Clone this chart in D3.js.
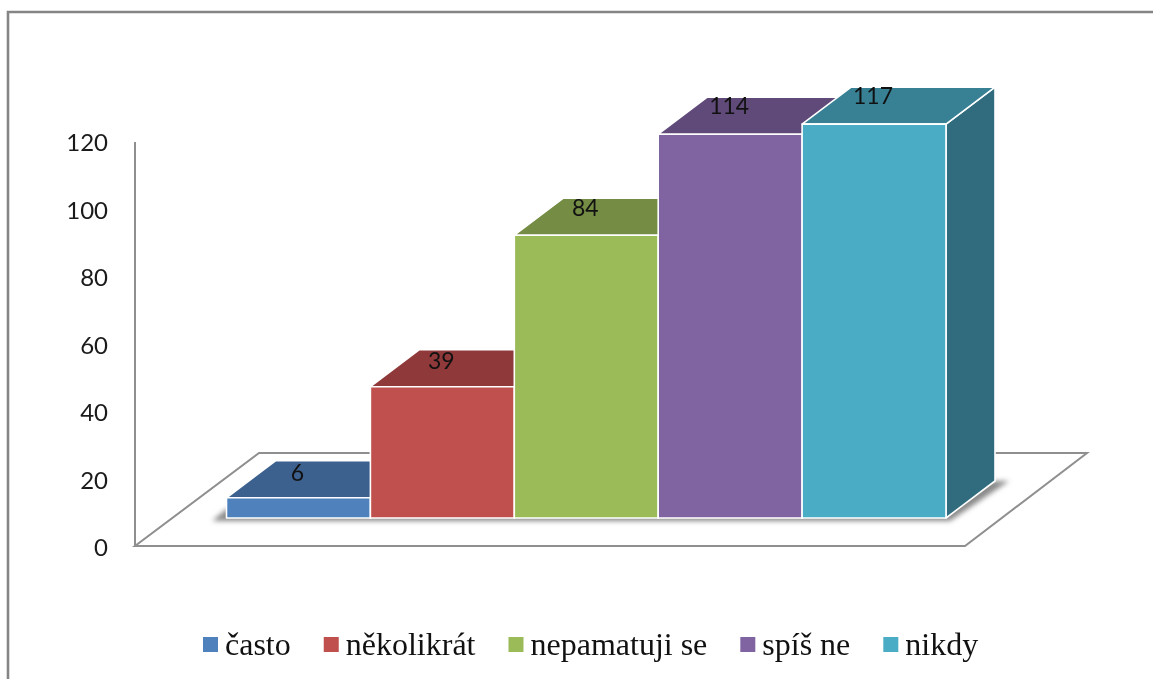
<!DOCTYPE html>
<html><head><meta charset="utf-8">
<script src="https://cdnjs.cloudflare.com/ajax/libs/d3/7.8.5/d3.min.js"></script>
<style>html,body{margin:0;background:#fff}svg{display:block;filter:blur(0.4px)}</style></head>
<body><svg id="c" width="1153" height="679"></svg>
<script>
const categories = ["často","několikrát","nepamatuji se","spíš ne","nikdy"];
const values = [6,39,84,114,117];
const ticks = [0,20,40,60,80,100,120];
const frontColors = ["#4f81bd","#c0504d","#9bbb59","#8064a2","#4bacc6"];
const topColors = ["#3c618e","#90393a","#748c43","#604a7a","#388195"];
const sideColors = ["#345478","#7c3230","#647a3a","#534069","#306c7e"];

const svg = d3.select("#c");
const depth = {dx:49, dy:-37};
const floorDepth = {dx:122, dy:-93};
const y = d3.scaleLinear().domain([0,120]).range([546,142]);
const x = d3.scaleBand().domain(categories).range([226.5,946]).padding(0);
const baseY = 518;
const unit = y(0)-y(1);
const barTop = v => baseY - v*unit;
const poly = pts => pts.map(p=>p.join(",")).join(" ");

const defs = svg.append("defs");
defs.append("filter").attr("id","soft").attr("x","-20%").attr("y","-20%").attr("width","140%").attr("height","140%")
  .append("feGaussianBlur").attr("stdDeviation",2.5);

// chart frame
svg.append("path").attr("d",`M1153,12 H8 V679`).attr("fill","none").attr("stroke","#858585").attr("stroke-width",2.6);

// wall and floor
const fx0 = 135, fx1 = 965;
svg.append("line").attr("x1",fx0).attr("x2",fx0).attr("y1",y(120)).attr("y2",y(0)).attr("stroke","#8f8f8f").attr("stroke-width",2);
svg.append("polygon").attr("points",poly([[fx0,y(0)],[fx1,y(0)],[fx1+floorDepth.dx,y(0)+floorDepth.dy],[fx0+floorDepth.dx+2,y(0)+floorDepth.dy]]))
  .attr("fill","#fff").attr("stroke","#8f8f8f").attr("stroke-width",2);

// bar shadow on the floor
const left = x.range()[0], right = x.range()[1];
svg.append("polygon")
  .attr("points",poly([[left-12,baseY+1],[left,baseY-9],[left+10,baseY-9],[right,baseY-9],[right+depth.dx-6,baseY+depth.dy],[right+depth.dx+14,baseY+depth.dy],[right+4,baseY+3],[left-14,baseY+3]]))
  .attr("fill","#8a8a8a").attr("filter","url(#soft)");

// bars
const g = svg.append("g").attr("stroke","#fff").attr("stroke-width",1.6).attr("stroke-linejoin","round");
categories.forEach((c,i)=>{
  const x0=x(c), x1=x0+x.bandwidth(), t=barTop(values[i]);
  g.append("polygon").attr("points",poly([[x1,baseY],[x1+depth.dx,baseY+depth.dy],[x1+depth.dx,t+depth.dy],[x1,t]])).attr("fill",sideColors[i]);
  g.append("polygon").attr("points",poly([[x0,t],[x0+depth.dx,t+depth.dy],[x1+depth.dx,t+depth.dy],[x1,t]])).attr("fill",topColors[i]);
  g.append("rect").attr("x",x0).attr("y",t).attr("width",x.bandwidth()).attr("height",baseY-t).attr("fill",frontColors[i]);
});

// axis labels
const sans = "Lato, 'Open Sans', sans-serif";
svg.append("g").selectAll("text").data(ticks).join("text")
  .attr("x",108).attr("y",d=>y(d)+10-d*0.008).attr("text-anchor","end")
  .attr("font-family",sans).attr("font-size",24).attr("fill","#1a1a1a").text(d=>d);

// data labels
svg.append("g").selectAll("text").data(values).join("text")
  .attr("x",(d,i)=>x(categories[i])+x.bandwidth()/2-1)
  .attr("y",d=>barTop(d)-16.5-d*0.03)
  .attr("text-anchor","middle").attr("font-family",sans).attr("font-size",23).attr("fill","#111").text(d=>d);

// legend
const lg = svg.append("g");
let lx = 203;
categories.forEach((c,i)=>{
  lg.append("rect").attr("x",lx).attr("y",637).attr("width",15).attr("height",15).attr("fill",frontColors[i]);
  const t = lg.append("text").attr("x",lx+22).attr("y",655).attr("font-family","'Liberation Serif',serif").attr("font-size",32).attr("fill","#111").text(c);
  lx += 22 + t.node().getComputedTextLength() + 33;
});
</script></body></html>
